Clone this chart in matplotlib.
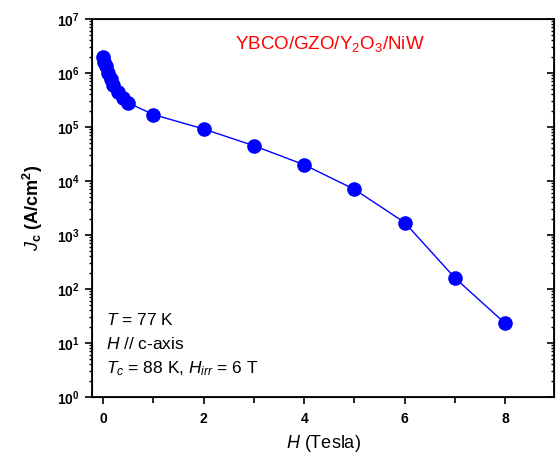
import matplotlib
matplotlib.use("Agg")
import matplotlib.pyplot as plt
from matplotlib.ticker import LogLocator, FixedLocator, NullFormatter

plt.rcParams['font.family'] = ['Liberation Sans', 'DejaVu Sans']
plt.rcParams['mathtext.fontset'] = 'custom'
plt.rcParams['mathtext.rm'] = 'Liberation Sans'
plt.rcParams['mathtext.it'] = 'Liberation Sans:italic'
plt.rcParams['mathtext.bf'] = 'Liberation Sans:bold'

# field (Tesla) and critical current density (A/cm^2)
field = [0, 0.02, 0.05, 0.1, 0.15, 0.2, 0.3, 0.4, 0.5,
         1, 2, 3, 4, 5, 6, 7, 8]
jc = [2.0e6, 1.6e6, 1.35e6, 1.0e6, 7.7e5, 6.0e5, 4.5e5, 3.5e5, 2.8e5,
      1.7e5, 9.2e4, 4.5e4, 2.0e4, 7.0e3, 1.7e3, 1.6e2, 23]

xticks = [0, 2, 4, 6, 8]
ydecades = [0, 1, 2, 3, 4, 5, 6, 7]

fig = plt.figure(figsize=(5.58, 4.59), dpi=100)
ax = fig.add_axes([92 / 558, 62 / 459, 462 / 558, 378 / 459])

ax.plot(field, jc, '-', color='#0000ff', lw=1.0,
        marker='o', ms=9.5, mfc='#0000ff', mec='#0000ff', zorder=3)

ax.set_yscale('log')
ax.set_xlim(-0.22, 8.97)
ax.set_ylim(1, 1e7)

ax.set_yticks([10.0 ** d for d in ydecades])
ax.set_yticklabels([r'$\mathbf{10^{%d}}$' % d for d in ydecades])
ax.yaxis.set_minor_locator(LogLocator(base=10, subs=range(2, 10), numticks=20))
ax.yaxis.set_minor_formatter(NullFormatter())

ax.set_xticks(xticks)
ax.set_xticklabels([str(t) for t in xticks], fontweight='bold')
ax.xaxis.set_minor_locator(FixedLocator([1, 3, 5, 7]))

ax.tick_params(axis='y', which='major', direction='out', length=5, width=1.2,
               labelsize=10, pad=4)
ax.tick_params(axis='y', which='minor', direction='out', length=2.5, width=1)
ax.tick_params(axis='x', which='major', direction='out', length=5, width=1.2,
               labelsize=10, pad=6)
ax.tick_params(axis='x', which='minor', direction='out', length=4, width=1.2)
for sp in ax.spines.values():
    sp.set_linewidth(1.3)

# right side: inward ticks, no labels
ax2 = ax.twinx()
ax2.set_yscale('log')
ax2.set_ylim(ax.get_ylim())
ax2.set_yticks([10.0 ** d for d in ydecades])
ax2.yaxis.set_minor_locator(LogLocator(base=10, subs=range(2, 10), numticks=20))
ax2.yaxis.set_major_formatter(NullFormatter())
ax2.yaxis.set_minor_formatter(NullFormatter())
ax2.tick_params(axis='y', which='major', direction='in', length=5, width=1.2)
ax2.tick_params(axis='y', which='minor', direction='in', length=2.5, width=1)

ax.set_xlabel(r'$\mathit{H}$ (Tesla)', fontsize=13, labelpad=5)
ax.set_ylabel(r'$\mathbf{\mathit{J}_c}$ $\mathbf{(A/cm^2)}$', fontsize=13,
              fontweight='bold', labelpad=8)

ax.text(0.31, 0.935, r'YBCO/GZO/Y$_2$O$_3$/NiW', transform=ax.transAxes,
        color='#ff0000', fontsize=13.5, ha='left', va='center')

ax.text(0.03, 0.205, r'$\mathit{T}$ = 77 K', transform=ax.transAxes,
        fontsize=12.5, ha='left', va='center')
ax.text(0.03, 0.14, r'$\mathit{H}$ // c-axis', transform=ax.transAxes,
        fontsize=12.5, ha='left', va='center')
ax.text(0.03, 0.075, r'$\mathit{T}_c$ = 88 K, $\mathit{H}_{irr}$ = 6 T',
        transform=ax.transAxes, fontsize=12.5, ha='left', va='center')

fig.savefig('out.png', dpi=100)
